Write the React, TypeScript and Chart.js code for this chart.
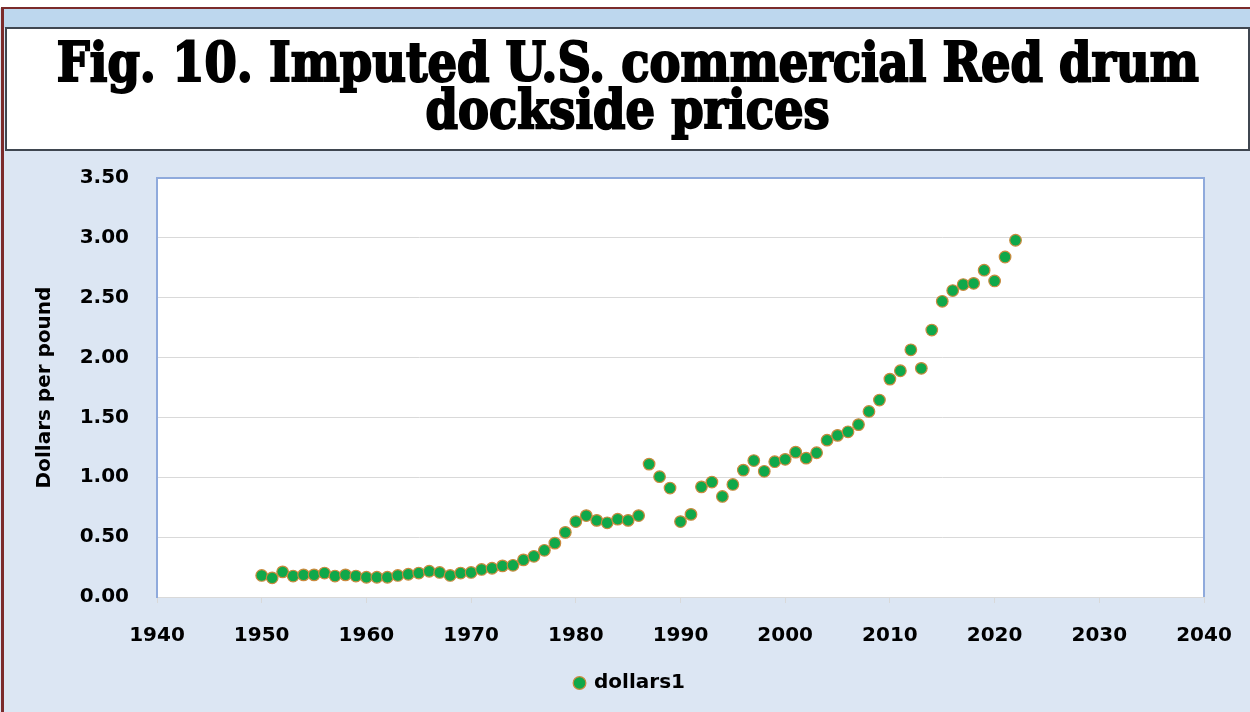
import React, { useEffect, useLayoutEffect, useRef } from "react";
import { Chart, registerables } from "chart.js";

Chart.register(...registerables);

const TITLE_LINES = ["Fig. 10. Imputed U.S. commercial Red drum", "dockside prices"];
const SERIES_LABEL = "dollars1";
const Y_TITLE = "Dollars per pound";

const YEARS = [
  1950, 1951, 1952, 1953, 1954, 1955, 1956, 1957, 1958, 1959,
  1960, 1961, 1962, 1963, 1964, 1965, 1966, 1967, 1968, 1969,
  1970, 1971, 1972, 1973, 1974, 1975, 1976, 1977, 1978, 1979,
  1980, 1981, 1982, 1983, 1984, 1985, 1986, 1987, 1988, 1989,
  1990, 1991, 1992, 1993, 1994, 1995, 1996, 1997, 1998, 1999,
  2000, 2001, 2002, 2003, 2004, 2005, 2006, 2007, 2008, 2009,
  2010, 2011, 2012, 2013, 2014, 2015, 2016, 2017, 2018, 2019,
  2020, 2021, 2022,
];

const PRICES = [
  0.18, 0.16, 0.21, 0.175, 0.185, 0.185, 0.2, 0.175, 0.185, 0.175,
  0.165, 0.165, 0.165, 0.18, 0.19, 0.2, 0.215, 0.205, 0.18, 0.2,
  0.205, 0.23, 0.24, 0.26, 0.265, 0.31, 0.34, 0.39, 0.45, 0.54,
  0.63, 0.68, 0.64, 0.62, 0.65, 0.64, 0.68, 1.11, 1.005, 0.91,
  0.63, 0.69, 0.92, 0.96, 0.84, 0.94, 1.06, 1.14, 1.05, 1.13,
  1.15, 1.21, 1.16, 1.205, 1.31, 1.35, 1.38, 1.44, 1.55, 1.645,
  1.82, 1.89, 2.065, 1.91, 2.23, 2.47, 2.56, 2.61, 2.62, 2.73,
  2.64, 2.84, 2.98,
];

const X_MIN = 1940;
const X_MAX = 2040;
const X_STEP = 10;
const Y_MIN = 0;
const Y_MAX = 3.5;
const Y_STEP = 0.5;

const FONT = "'DejaVu Sans', sans-serif";

const plotFrame = {
  id: "plotFrame",
  afterLayout(chart: any) {
    const lg = chart.legend;
    if (lg) {
      lg.left += 28;
      lg.right += 28;
    }
  },
  beforeDraw(chart: any) {
    const { ctx, chartArea } = chart;
    ctx.save();
    ctx.fillStyle = "#ffffff";
    ctx.fillRect(chartArea.left, chartArea.top, chartArea.right - chartArea.left, chartArea.bottom - chartArea.top);
    ctx.restore();
  },
  afterDraw(chart: any) {
    const { ctx, chartArea } = chart;
    ctx.save();
    ctx.strokeStyle = "#8faadc";
    ctx.lineWidth = 2;
    ctx.beginPath();
    ctx.moveTo(chartArea.left, chartArea.bottom);
    ctx.lineTo(chartArea.left, chartArea.top);
    ctx.lineTo(chartArea.right, chartArea.top);
    ctx.lineTo(chartArea.right, chartArea.bottom);
    ctx.stroke();
    ctx.restore();
  },
};

export default function App() {
  const canvasRef = useRef<HTMLCanvasElement>(null);
  const line1Ref = useRef<HTMLSpanElement>(null);
  const line2Ref = useRef<HTMLSpanElement>(null);

  useLayoutEffect(() => {
    const l1 = line1Ref.current;
    const l2 = line2Ref.current;
    if (!l1 || !l2) return;
    const w = l1.getBoundingClientRect().width;
    const s = w > 0 ? 1142 / w : 1;
    l1.style.transform = `scaleX(${s})`;
    l2.style.transform = `scaleX(${s})`;
  }, []);

  useEffect(() => {
    if (!canvasRef.current) return;
    const chart = new Chart(canvasRef.current, {
      type: "scatter",
      data: {
        datasets: [
          {
            label: SERIES_LABEL,
            data: YEARS.map((x, i) => ({ x, y: PRICES[i] })),
            backgroundColor: "#0fa84a",
            borderColor: "#c98a3e",
            borderWidth: 1.2,
            pointRadius: 5.8,
            pointHoverRadius: 5.8,
          },
        ],
      },
      options: {
        animation: false,
        responsive: false,
        devicePixelRatio: 1,
        layout: { padding: { left: 0, right: 46, top: 28, bottom: 9 } },
        plugins: {
          legend: {
            display: true,
            position: "bottom",
            labels: {
              usePointStyle: true,
              pointStyle: "circle",
              boxWidth: 9,
              boxHeight: 9,
              padding: 10,
              color: "#000",
              font: { family: FONT, size: 20, weight: "bold" },
            },
          },
          tooltip: { enabled: false },
          title: { display: false },
        },
        scales: {
          x: {
            type: "linear",
            min: X_MIN,
            max: X_MAX,
            afterFit: (s: any) => {
              s.height = 66;
            },
            ticks: {
              stepSize: X_STEP,
              padding: 16,
              color: "#000",
              font: { family: FONT, size: 20, weight: "bold", lineHeight: 1.7 },
              callback: (v: any) => String(v),
              maxRotation: 0,
            },
            grid: {
              drawOnChartArea: false,
              drawTicks: true,
              tickLength: 6,
              color: "#d9d9d9",
            },
            border: { color: "#d9d9d9", width: 1 },
          },
          y: {
            type: "linear",
            min: Y_MIN,
            max: Y_MAX,
            afterFit: (s: any) => {
              s.width = 157;
            },
            ticks: {
              stepSize: Y_STEP,
              padding: 0,
              color: "#000",
              font: { family: FONT, size: 20, weight: "bold" },
              callback: (v: any) => Number(v).toFixed(2),
            },
            grid: {
              color: "#d9d9d9",
              drawTicks: true,
              tickLength: 28,
              tickColor: "rgba(0,0,0,0)",
              lineWidth: 1,
            },
            border: { color: "#8faadc", width: 2 },
            title: {
              display: true,
              text: Y_TITLE,
              color: "#000",
              padding: { top: 33, bottom: 0 },
              font: { family: FONT, size: 20, weight: "bold" },
            },
          },
        },
      },
      plugins: [plotFrame],
    });
    return () => chart.destroy();
  }, []);

  const titleFont = "'DejaVu Serif Condensed', 'DejaVu Serif', serif";
  const lineStyle: React.CSSProperties = {
    position: "absolute",
    left: 0,
    right: 0,
    height: 56,
    fontSize: 54,
    lineHeight: "56px",
    whiteSpace: "nowrap",
  };
  const spanStyle: React.CSSProperties = {
    display: "inline-block",
    transformOrigin: "50% 50%",
    WebkitTextStroke: "2px #000",
  } as React.CSSProperties;

  return (
    <div
      style={{
        position: "absolute",
        left: 0,
        top: 0,
        width: 1250,
        height: 712,
        background: "#dce6f3",
        overflow: "hidden",
      }}
    >
      <div style={{ position: "absolute", left: 0, top: 0, width: 1250, height: 8, background: "#ffffff" }} />
      <div
        style={{
          position: "absolute",
          left: 1,
          top: 7,
          width: 1249,
          height: 705,
          borderLeft: "3px solid #7b2b2b",
          borderTop: "2px solid #7b2b2b",
          boxSizing: "border-box",
        }}
      />
      <div style={{ position: "absolute", left: 4, top: 9, width: 1246, height: 19, background: "#bdd7ee" }} />
      <div
        style={{
          position: "absolute",
          left: 5,
          top: 27,
          width: 1245,
          height: 124,
          background: "#ffffff",
          border: "2px solid #3f4650",
          boxSizing: "border-box",
          fontFamily: titleFont,
          fontWeight: 900,
          color: "#000",
          textAlign: "center",
        }}
      >
        <div style={{ ...lineStyle, top: 5 }}>
          <span ref={line1Ref} style={spanStyle}>
            {TITLE_LINES[0]}
          </span>
        </div>
        <div style={{ ...lineStyle, top: 52 }}>
          <span ref={line2Ref} style={spanStyle}>
            {TITLE_LINES[1]}
          </span>
        </div>
      </div>
      <div style={{ position: "absolute", left: 0, top: 150, width: 1250, height: 562 }}>
        <canvas ref={canvasRef} width={1250} height={562} style={{ display: "block" }} />
      </div>
    </div>
  );
}
